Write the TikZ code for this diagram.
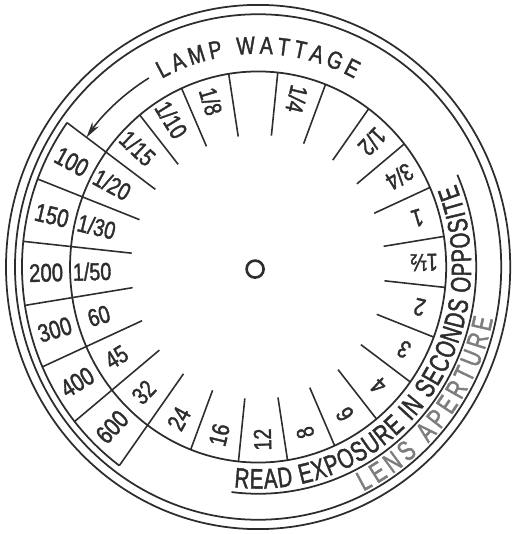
\documentclass[tikz,border=0pt]{standalone}
\usepackage{fontspec}
\setmainfont{Liberation Sans}[FakeStretch=0.8, FakeBold=1.5]
\newfontfamily\dialfont{Liberation Sans}[FakeStretch=0.72, FakeBold=1.5]
\usetikzlibrary{arrows.meta, decorations.text}
\definecolor{DialInk}{RGB}{45,45,45}
\definecolor{DialGray}{RGB}{125,125,125}

\begin{document}
\begin{tikzpicture}[x=0.02cm, y=0.0208cm,
    ring/.style={draw=DialInk, line width=1pt},
    tick/.style={draw=DialInk, line width=0.9pt},
    wlabel/.style={font=\fontsize{14.5}{14.5}\selectfont, text=DialInk, inner sep=0pt},
    elabel/.style={font=\fontsize{14}{14}\selectfont, text=DialInk, inner sep=0pt},
    arr/.style={-{Stealth[length=0.32cm, width=0.16cm]}, draw=DialInk, line width=0.9pt}
  ]
  \useasboundingbox (-258,-256.7) rectangle (258,256.7);
  \coordinate (c) at (0,0);

  % fixed plate and dial rings
  \draw[ring] (c) circle[radius=252];
  \draw[ring] (c) circle[radius=243];
  \draw[ring] (c) circle[radius=188];
  \draw[ring] (144:236) arc[start angle=144, end angle=234, radius=236];
  \draw[ring] (263:218) arc[start angle=263, end angle=384, radius=218];
  \node[draw=DialInk, circle, line width=1.5pt, minimum size=0.34cm, inner sep=0pt] (hole) at (-3,-2) {};

  % scale dividers
  \foreach \a in {9,24,...,129}
    \draw[tick] (\a:127) -- (\a:188);
  \foreach \a in {249,264,...,354}
    \draw[tick] (\a:127) -- (\a:188);
  \foreach \a in {144,159,...,234}
    \draw[tick] (\a:127) -- (\a:236);

  % exposure scale
  \foreach \a/\t [count=\i] in {1.5/1½, 16.5/1, 31.5/{3/4}, 46.5/{1/2}, 76.5/{1/4},
      106.5/{1/8}, 121.5/{1/10}, 136.5/{1/15}, 151.5/{1/20}, 166.5/{1/30},
      181.5/{1/50}, 196.5/60, 211.5/45, 226.5/32, 241.5/24, 256.5/16,
      271.5/12, 286.5/8, 301.5/6, 316.5/4, 331.5/3, 346.5/2}
    \node[elabel, rotate=\a-180] (e\i) at (\a:166) {\t};

  % lamp wattage
  \foreach \a/\t [count=\i] in {151.5/100, 166.5/150, 181.5/200, 196.5/300, 211.5/400, 226.5/600}
    \node[wlabel, rotate=\a-180] (w\i) at (\a:212) {\t};

  \path[decorate, decoration={text along path, text align={fit to path},
      text={|\fontsize{14}{14}\selectfont\color{DialInk}|LAMP WATTAGE}}]
    (118:205) arc[start angle=118, end angle=62, radius=205];
  \draw[arr] (121:212) arc[start angle=121, end angle=144, radius=212];

  \path[decorate, decoration={text along path, text align={fit to path},
      text={|\dialfont\fontsize{16}{16}\selectfont\color{DialInk}|READ EXPOSURE IN SECONDS OPPOSITE}}]
    (263.5:213) arc[start angle=263.5, end angle=382, radius=213];
  \path[decorate, decoration={text along path, text align={fit to path},
      text={|\dialfont\fontsize{16}{16}\selectfont\color{DialGray}|LENS APERTURE}}]
    (296:240) arc[start angle=296, end angle=348, radius=240];
\end{tikzpicture}
\end{document}
